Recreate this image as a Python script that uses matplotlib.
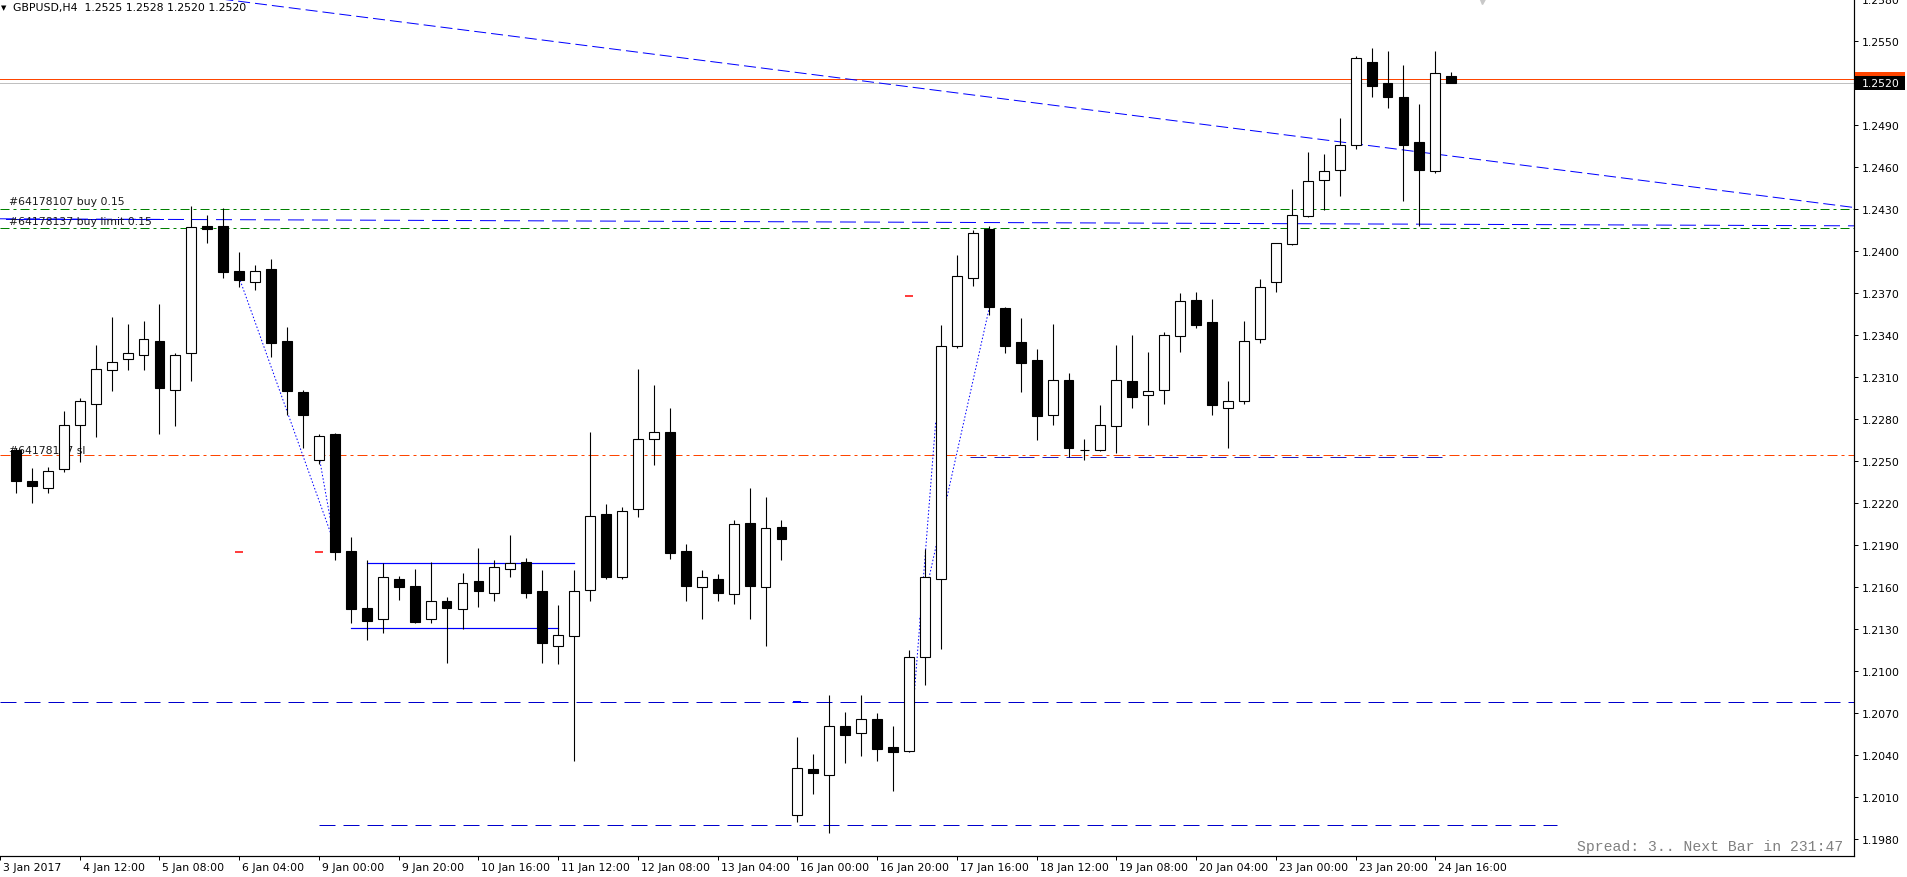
import matplotlib
matplotlib.use('Agg')
import matplotlib.pyplot as plt
import matplotlib.transforms as mtransforms
from matplotlib.patches import Rectangle
import numpy as np

plt.rcParams['font.family'] = 'DejaVu Sans'
plt.rcParams['lines.scale_dashes'] = False

# GBPUSD H4 candles, first bar = 3 Jan 2017 20:00
opens = [1.2258, 1.2236, 1.2231, 1.2244, 1.2276, 1.2291, 1.2315, 1.2323, 1.2326, 1.2336,
         1.2301, 1.2327, 1.2418, 1.2418, 1.2386, 1.2378, 1.2387, 1.2336, 1.2299, 1.2251,
         1.2269, 1.2186, 1.2145, 1.2137, 1.2166, 1.2161, 1.2137, 1.2150, 1.2144, 1.2164,
         1.2156, 1.2173, 1.2178, 1.2157, 1.2118, 1.2125, 1.2158, 1.2212, 1.2167, 1.2216,
         1.2266, 1.2271, 1.2186, 1.2160, 1.2166, 1.2155, 1.2206, 1.2160, 1.2203, 1.1997,
         1.2030, 1.2026, 1.2061, 1.2056, 1.2066, 1.2046, 1.2043, 1.2110, 1.2166, 1.2332,
         1.2381, 1.2416, 1.2359, 1.2335, 1.2322, 1.2283, 1.2308, 1.2258, 1.2258, 1.2275,
         1.2307, 1.2297, 1.2301, 1.2339, 1.2365, 1.2349, 1.2288, 1.2293, 1.2337, 1.2378,
         1.2405, 1.2425, 1.2451, 1.2458, 1.2476, 1.2535, 1.2520, 1.2510, 1.2478, 1.2457,
         1.2525]
highs = [1.2259, 1.2245, 1.2246, 1.2286, 1.2295, 1.2333, 1.2353, 1.2348, 1.2350, 1.2362,
         1.2327, 1.2432, 1.2426, 1.2431, 1.2399, 1.2390, 1.2394, 1.2346, 1.2301, 1.2269,
         1.2270, 1.2196, 1.2179, 1.2177, 1.2168, 1.2173, 1.2178, 1.2153, 1.2170, 1.2188,
         1.2179, 1.2197, 1.2181, 1.2172, 1.2147, 1.2172, 1.2271, 1.2219, 1.2217, 1.2316,
         1.2304, 1.2288, 1.2191, 1.2172, 1.2169, 1.2208, 1.2231, 1.2224, 1.2208, 1.2053,
         1.2041, 1.2083, 1.2071, 1.2083, 1.2070, 1.2061, 1.2115, 1.2187, 1.2347, 1.2397,
         1.2415, 1.2418, 1.2360, 1.2352, 1.2330, 1.2348, 1.2313, 1.2266, 1.2290, 1.2333,
         1.2340, 1.2328, 1.2342, 1.2370, 1.2371, 1.2366, 1.2307, 1.2350, 1.2380, 1.2406,
         1.2444, 1.2471, 1.2469, 1.2495, 1.2539, 1.2545, 1.2543, 1.2533, 1.2505, 1.2543,
         1.2528]
lows = [1.2227, 1.2220, 1.2227, 1.2242, 1.2249, 1.2267, 1.2300, 1.2315, 1.2315, 1.2269,
        1.2275, 1.2307, 1.2406, 1.2381, 1.2374, 1.2372, 1.2324, 1.2283, 1.2259, 1.2248,
        1.2179, 1.2134, 1.2122, 1.2127, 1.2151, 1.2134, 1.2134, 1.2106, 1.2130, 1.2146,
        1.2150, 1.2167, 1.2152, 1.2106, 1.2105, 1.2036, 1.2150, 1.2166, 1.2166, 1.2210,
        1.2247, 1.2180, 1.2150, 1.2137, 1.2150, 1.2148, 1.2137, 1.2118, 1.2179, 1.1992,
        1.2012, 1.1984, 1.2034, 1.2039, 1.2036, 1.2014, 1.2042, 1.2090, 1.2116, 1.2331,
        1.2375, 1.2354, 1.2327, 1.2299, 1.2265, 1.2276, 1.2253, 1.2251, 1.2257, 1.2256,
        1.2288, 1.2276, 1.2291, 1.2328, 1.2345, 1.2283, 1.2259, 1.2291, 1.2334, 1.2371,
        1.2404, 1.2424, 1.2429, 1.2439, 1.2473, 1.2510, 1.2502, 1.2436, 1.2418, 1.2456,
        1.2520]
closes = [1.2236, 1.2232, 1.2243, 1.2276, 1.2293, 1.2316, 1.2321, 1.2327, 1.2337, 1.2302,
          1.2326, 1.2417, 1.2416, 1.2385, 1.2379, 1.2386, 1.2334, 1.2300, 1.2283, 1.2268,
          1.2185, 1.2144, 1.2136, 1.2167, 1.2160, 1.2135, 1.2150, 1.2145, 1.2163, 1.2157,
          1.2174, 1.2177, 1.2156, 1.2120, 1.2126, 1.2157, 1.2211, 1.2167, 1.2214, 1.2266,
          1.2271, 1.2184, 1.2161, 1.2167, 1.2156, 1.2205, 1.2161, 1.2202, 1.2194, 1.2031,
          1.2027, 1.2061, 1.2054, 1.2066, 1.2044, 1.2042, 1.2110, 1.2167, 1.2332, 1.2382,
          1.2413, 1.2360, 1.2332, 1.2320, 1.2282, 1.2308, 1.2259, 1.2258, 1.2276, 1.2308,
          1.2296, 1.2300, 1.2340, 1.2364, 1.2347, 1.2290, 1.2293, 1.2336, 1.2374, 1.2406,
          1.2426, 1.2450, 1.2457, 1.2476, 1.2538, 1.2518, 1.2510, 1.2476, 1.2458, 1.2527,
          1.2520]

# bottom time labels, one every 5 bars (bar index)
date_pos = [-1, 4, 9, 14, 19, 24, 29, 34, 39, 44, 49, 54, 59, 64, 69, 74, 79, 84, 89]
date_labels = ['3 Jan 2017', '4 Jan 12:00', '5 Jan 08:00', '6 Jan 04:00', '9 Jan 00:00',
               '9 Jan 20:00', '10 Jan 16:00', '11 Jan 12:00', '12 Jan 08:00', '13 Jan 04:00',
               '16 Jan 00:00', '16 Jan 20:00', '17 Jan 16:00', '18 Jan 12:00', '19 Jan 08:00',
               '20 Jan 04:00', '23 Jan 00:00', '23 Jan 20:00', '24 Jan 16:00']

price_ticks = [1.1980, 1.2010, 1.2040, 1.2070, 1.2100, 1.2130, 1.2160, 1.2190, 1.2220,
               1.2250, 1.2280, 1.2310, 1.2340, 1.2370, 1.2400, 1.2430, 1.2460, 1.2490,
               1.2520, 1.2550, 1.2580]

# order levels and drawn objects
buy_open = 1.2430
buy_limit_green = 1.24165
sl_level = 1.2254
bid = 1.2520
ask = 1.2523
support_level = 1.2078
bottom_level = 1.1990
bottom_span = [19, 96.6]
low_dash_level = 1.2253
low_dash_span = [59.8, 89.7]
box_top, box_top_span = 1.2177, [22.0, 35.0]
box_bot, box_bot_span = 1.2131, [21.0, 34.0]
trend_a = [(15.625, 1.2576), (91.25, 1.2466)]       # falling trend line
trend_b = [(-0.625, 1.2423), (115.25, 1.2418)]      # buy limit line
history_lines = [[(14.06, 1.2379), (20.0, 1.2190)],
                 [(19.06, 1.2250), (20.0, 1.2190)],
                 [(56.04, 1.2042), (57.67, 1.2278)],
                 [(56.67, 1.2137), (61.04, 1.2360)]]
close_marks_x = [14, 19, 56]
close_marks_y = [1.2185, 1.2185, 1.2368]


def px(v):
    # pixels -> points (dpi 100)
    return v * 0.72


fig = plt.figure(figsize=(19.08, 8.78), dpi=100)
fig.patch.set_facecolor('white')
ax = fig.add_axes([0, 21 / 878, 1854 / 1908, 857 / 878])
ax.set_xlim(-0.625, 115.25)
ax.set_ylim(1.19679, 1.2580)

# horizontal levels
ax.axhline(buy_open, color='#008000', lw=px(1), dashes=(px(9), px(4), px(3), px(4)), zorder=2)
ax.axhline(buy_limit_green, color='#008000', lw=px(1), dashes=(px(9), px(4), px(3), px(4)), zorder=2)
ax.axhline(sl_level, color='#FF4500', lw=px(1), dashes=(px(10), px(4), px(3), px(4)), zorder=2)
ax.axhline(support_level, color='#0000CD', lw=px(1), dashes=(px(16), px(8)), zorder=2)
ax.axhline(bid, color='#C0C0C0', lw=px(1), zorder=2)
ax.axhline(ask, color='#FF4500', lw=px(1), zorder=2)
ax.plot(bottom_span, [bottom_level, bottom_level], color='#0000CD', lw=px(1),
        dashes=(px(16), px(8)), zorder=2)
ax.plot(low_dash_span, [low_dash_level, low_dash_level], color='#2020C0', lw=px(1),
        dashes=(px(16), px(8)), zorder=2)

# trend lines
ax.axline(trend_a[0], trend_a[1], color='#0000FF', lw=px(1), dashes=(px(12), px(5)), zorder=2)
ax.axline(trend_b[0], trend_b[1], color='#0000FF', lw=px(1), dashes=(px(16), px(8)), zorder=2)
ax.plot([trend_b[0][0], 9.2], [trend_b[0][1], trend_b[0][1]], color='#0000FF', lw=px(1), zorder=2)

# range box
ax.plot(box_top_span, [box_top, box_top], color='#0000FF', lw=px(1.2), zorder=2)
ax.plot(box_bot_span, [box_bot, box_bot], color='#0000FF', lw=px(1.2), zorder=2)

# order history (dotted) and close marks
for seg in history_lines:
    xs, ys = zip(*seg)
    ax.plot(xs, ys, color='#0000FF', lw=px(1), dashes=(px(1.5), px(2)), zorder=2)
ax.plot(close_marks_x, close_marks_y, ls='none', marker='_', ms=px(8), mew=px(1.5),
        color='#FF0000', zorder=3)
ax.plot([49], [support_level], ls='none', marker='_', ms=px(8), mew=px(2), color='#0000FF', zorder=3)

# order labels (drawn under the candles)
ax.text(-0.45, buy_open + 0.00055, '#64178107 buy 0.15', fontsize=7.8, color='#1a1a1a',
        va='center', ha='left', zorder=3)
ax.text(-0.45, 1.24216, '#64178137 buy limit 0.15', fontsize=7.8, color='#1a1a1a',
        va='center', ha='left', zorder=3)
ax.text(-0.45, sl_level + 0.0004, '#64178107 sl', fontsize=7.8, color='#1a1a1a',
        va='center', ha='left', zorder=3)

# candles
o = np.array(opens)
h = np.array(highs)
l = np.array(lows)
c = np.array(closes)
idx = np.arange(len(o))
bull = c >= o
ax.vlines(idx, l, h, color='black', lw=px(1.1), zorder=4)
ax.bar(idx, np.abs(c - o), bottom=np.minimum(o, c), width=0.62,
       color=np.where(bull, 'white', 'black'), edgecolor='black', linewidth=px(1.1), zorder=5)

# axes frame
for side in ['left', 'top']:
    ax.spines[side].set_visible(False)
for side in ['right', 'bottom']:
    ax.spines[side].set_linewidth(px(1.2))
    ax.spines[side].set_color('black')

ax.yaxis.tick_right()
ax.set_yticks(price_ticks)
ax.set_yticklabels(['%.4f' % p for p in price_ticks])
ax.tick_params(axis='y', direction='out', length=px(4), width=px(1), pad=px(4),
               labelsize=7.8, labelcolor='black')
ax.set_xticks(date_pos)
ax.tick_params(axis='x', direction='out', length=px(4), width=px(1), labelbottom=False)

# date labels, left aligned just right of the tick
date_tr = mtransforms.blended_transform_factory(ax.transData, ax.transAxes) + \
    mtransforms.ScaledTranslation(px(3) / 72, -px(11) / 72, fig.dpi_scale_trans)
for pos, lab in zip(date_pos, date_labels):
    ax.text(pos, 0, lab, transform=date_tr, ha='left', va='center', fontsize=7.8, clip_on=False)

# price boxes on the right axis: ask box peeking out above the bid box
box_tr = mtransforms.blended_transform_factory(ax.transAxes, ax.transData)
ax.add_patch(Rectangle((1 + 1 / 1854, ask - 0.0005), 50 / 1854, 0.001, transform=box_tr,
                       fc='#FF4500', ec='none', clip_on=False, zorder=9))
ax.add_patch(Rectangle((1 + 1 / 1854, bid - 0.0005), 50 / 1854, 0.001, transform=box_tr,
                       fc='black', ec='none', clip_on=False, zorder=10))
ax.text(1 + 8 / 1854, bid, '%.4f' % bid, transform=box_tr, ha='left', va='center', fontsize=7.8,
        color='white', clip_on=False, zorder=11)

# chart shift marker at the top
ax.plot([91.9], [1.2580], marker='v', ms=px(9), color='#C8C8C8', clip_on=False, zorder=6)

# header and status text
fig.text(1 / 1908, 1 - 8 / 878, '\u25bc', fontsize=5, va='center', ha='left')
fig.text(13 / 1908, 1 - 8 / 878, 'GBPUSD,H4  1.2525 1.2528 1.2520 1.2520', fontsize=7.8,
         va='center', ha='left')
fig.text(1843 / 1908, 1 - 847 / 878, 'Spread: 3.. Next Bar in 231:47', fontsize=10.6,
         family='Liberation Mono', color='#808080', va='center', ha='right')

fig.savefig('out.png', dpi=100, facecolor='white')
